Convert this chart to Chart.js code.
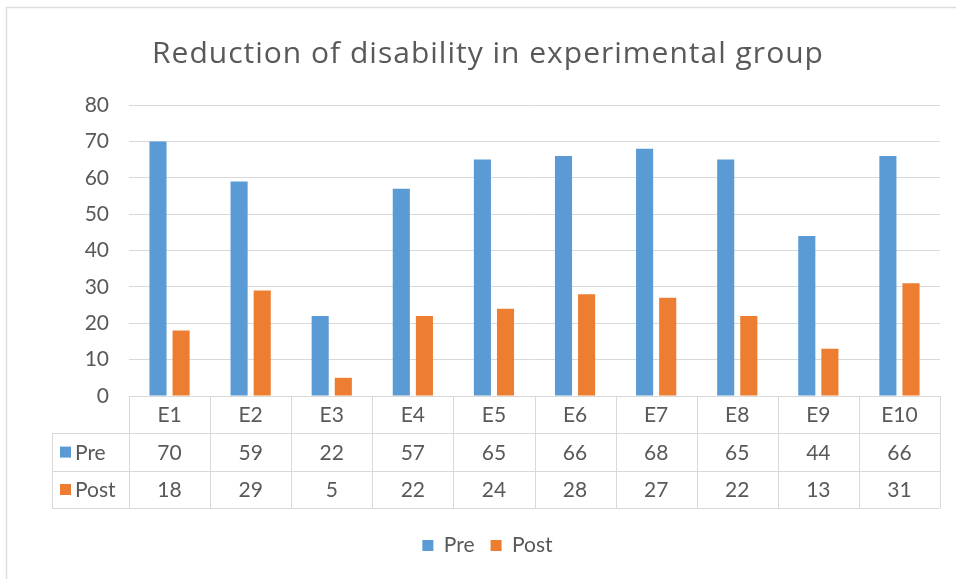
<!DOCTYPE html>
<html>
<head>
<meta charset="utf-8">
<script src="https://cdn.jsdelivr.net/npm/chart.js@4/dist/chart.umd.min.js"></script>
<style>
  html, body { margin: 0; padding: 0; background: #ffffff; }
  #wrap { width: 956px; height: 579px; }
</style>
</head>
<body>
<div id="wrap"><canvas id="c" width="956" height="579"></canvas></div>
<script>
// Disability scores per participant, before and after the programme
const categories = ['E1', 'E2', 'E3', 'E4', 'E5', 'E6', 'E7', 'E8', 'E9', 'E10'];
const preValues  = [70, 59, 22, 57, 65, 66, 68, 65, 44, 66];
const postValues = [18, 29, 5, 22, 24, 28, 27, 22, 13, 31];
const seriesNames = ['Pre', 'Post'];
const yTicks = [0, 10, 20, 30, 40, 50, 60, 70, 80];
const chartTitle = 'Reduction of disability in experimental group';

const BLUE = '#5B9BD5';
const ORANGE = '#ED7D31';
const TEXT = '#595959';
const GRID = '#D9D9D9';
const FONT = 'Lato, "Open Sans", sans-serif';
const TITLE_FONT = '"Open Sans", Lato, sans-serif';

// Frame around the chart (top and left edges only) and the title
const framePlugin = {
  id: 'frame',
  beforeDraw(chart) {
    const ctx = chart.ctx;
    ctx.save();
    ctx.fillStyle = '#ffffff';
    ctx.fillRect(0, 0, chart.width, chart.height);
    ctx.strokeStyle = '#DDDDDD';
    ctx.lineWidth = 1.5;
    ctx.beginPath();
    ctx.moveTo(6.5, chart.height);
    ctx.lineTo(6.5, 7.5);
    ctx.lineTo(chart.width, 7.5);
    ctx.stroke();

    ctx.fillStyle = TEXT;
    ctx.font = '30px ' + TITLE_FONT;
    ctx.letterSpacing = '1px';
    ctx.textAlign = 'center';
    ctx.textBaseline = 'middle';
    const area = chart.chartArea;
    ctx.fillText(chartTitle, (area.left - 94 + area.right) / 2 + 0.5, 54);
    ctx.restore();
  }
};

// Data table drawn under the category axis
const tablePlugin = {
  id: 'dataTable',
  afterDraw(chart) {
    const ctx = chart.ctx;
    const x = chart.scales.x;
    const area = chart.chartArea;
    const n = categories.length;
    const colW = (area.right - area.left) / n;
    const top = area.bottom;
    const rowH = 37.4;
    const headLeft = area.left - 77;
    const rows = [top, top + rowH, top + 2 * rowH, top + 3 * rowH];

    ctx.save();
    ctx.strokeStyle = GRID;
    ctx.lineWidth = 1;
    ctx.beginPath();
    // top line of the category row
    ctx.moveTo(area.left, Math.round(rows[0]) + 0.5);
    ctx.lineTo(area.right, Math.round(rows[0]) + 0.5);
    for (let r = 1; r <= 3; r++) {
      ctx.moveTo(headLeft, Math.round(rows[r]) + 0.5);
      ctx.lineTo(area.right, Math.round(rows[r]) + 0.5);
    }
    for (let k = 0; k <= n; k++) {
      const xx = Math.round(area.left + k * colW) + 0.5;
      ctx.moveTo(xx, rows[0]);
      ctx.lineTo(xx, rows[3]);
    }
    ctx.moveTo(Math.round(headLeft) + 0.5, rows[1]);
    ctx.lineTo(Math.round(headLeft) + 0.5, rows[3]);
    ctx.stroke();

    ctx.fillStyle = TEXT;
    ctx.font = '21px ' + FONT;
    ctx.textAlign = 'center';
    ctx.textBaseline = 'middle';
    const series = [preValues, postValues];
    categories.forEach((cat, i) => {
      const cx = x.getPixelForValue(i);
      ctx.fillText(cat, cx, rows[0] + rowH / 2 + 1);
      ctx.fillText(String(series[0][i]), cx, rows[1] + rowH / 2 + 1);
      ctx.fillText(String(series[1][i]), cx, rows[2] + rowH / 2 + 1);
    });

    // row headers with series keys
    const keyColors = [BLUE, ORANGE];
    ctx.textAlign = 'left';
    seriesNames.forEach((name, r) => {
      const cy = rows[r + 1] + rowH / 2;
      ctx.fillStyle = keyColors[r];
      ctx.fillRect(headLeft + 8, cy - 5.5, 11, 11);
      ctx.fillStyle = TEXT;
      ctx.fillText(name, headLeft + 23, cy + 1);
    });
    ctx.restore();
  }
};

new Chart(document.getElementById('c'), {
  type: 'bar',
  data: {
    labels: categories,
    datasets: [
      { label: seriesNames[0], data: preValues, backgroundColor: BLUE, borderWidth: 0,
        categoryPercentage: 0.57, barPercentage: 0.74 },
      { label: seriesNames[1], data: postValues, backgroundColor: ORANGE, borderWidth: 0,
        categoryPercentage: 0.57, barPercentage: 0.74 }
    ]
  },
  options: {
    responsive: false,
    animation: false,
    devicePixelRatio: 1,
    layout: { padding: { left: 35, right: 16, top: 105, bottom: 13 } },
    plugins: {
      title: { display: false },
      legend: {
        position: 'bottom',
        labels: {
          color: TEXT,
          font: { family: FONT, size: 21 },
          boxWidth: 11,
          boxHeight: 11,
          padding: 16
        }
      },
      tooltip: { enabled: false }
    },
    scales: {
      x: {
        ticks: { display: false },
        grid: { display: false },
        border: { display: false },
        afterFit(scale) { scale.height = 123; }
      },
      y: {
        min: 0,
        max: 80,
        afterBuildTicks(scale) { scale.ticks = yTicks.map(v => ({ value: v })); },
        ticks: { color: TEXT, font: { family: FONT, size: 21 }, padding: 20 },
        grid: { color: GRID, drawTicks: false },
        border: { display: false },
        afterFit(scale) { scale.width = 94; }
      }
    }
  },
  plugins: [framePlugin, tablePlugin]
});
</script>
</body>
</html>
